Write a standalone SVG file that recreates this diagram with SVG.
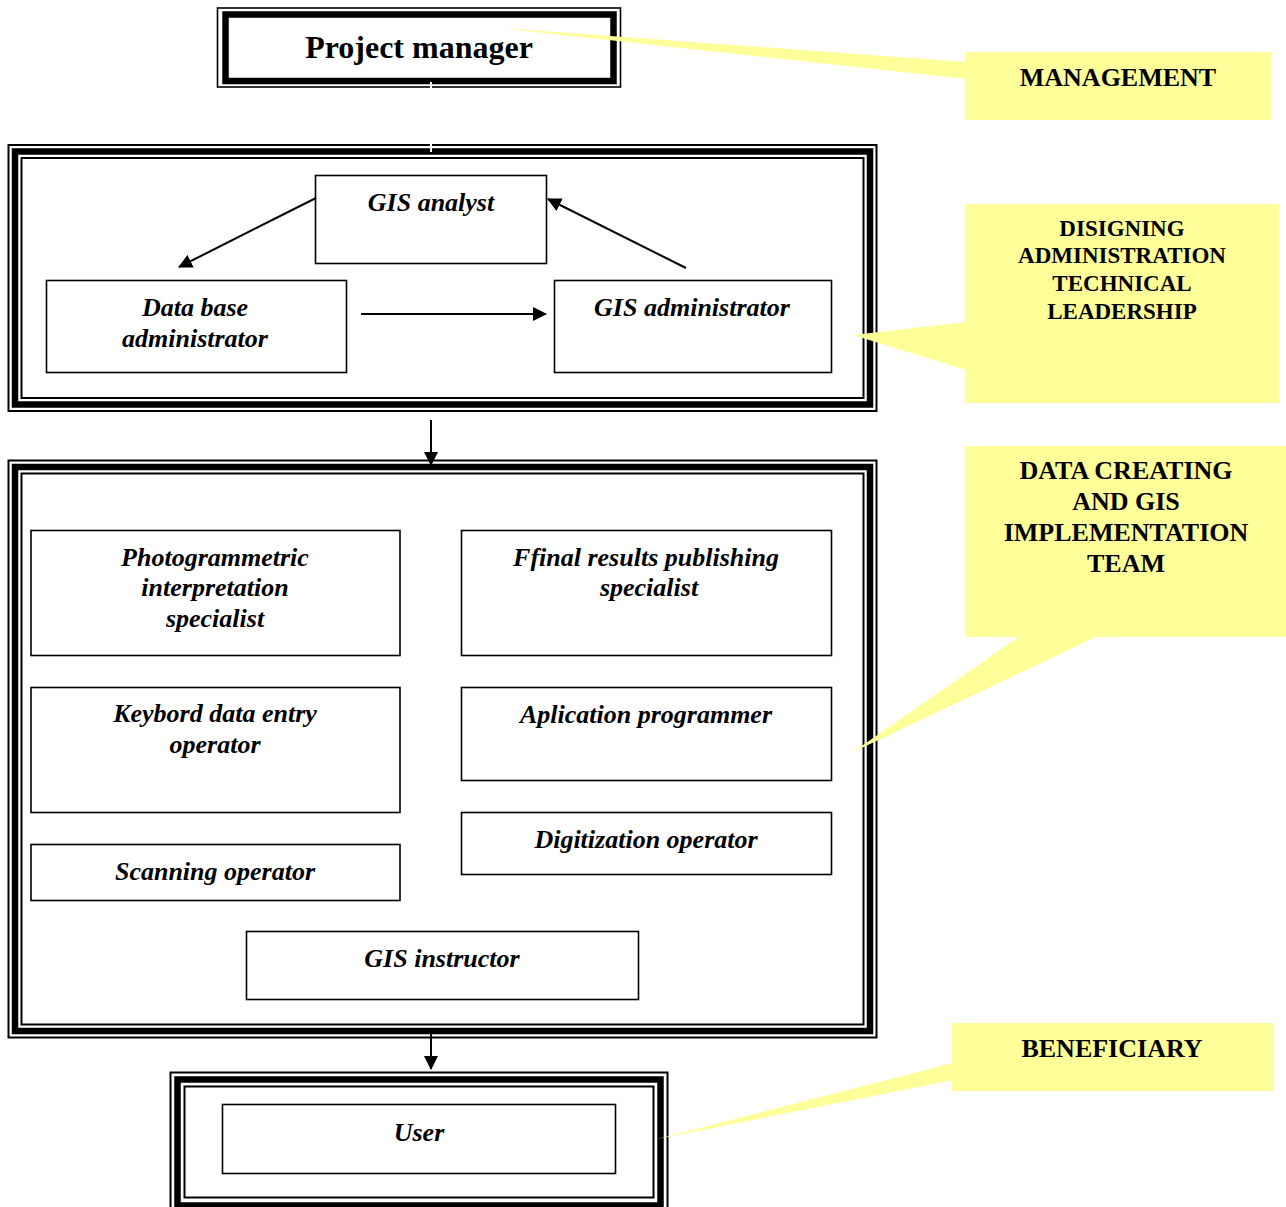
<svg xmlns="http://www.w3.org/2000/svg" width="1286" height="1207" viewBox="0 0 1286 1207">
  <style>
    .box { fill: #ffffff; stroke: #000000; stroke-width: 1.6; }
    .thin { fill: none; stroke: #000000; stroke-width: 2; }
    .thick { fill: none; stroke: #000000; stroke-width: 6.5; }
    .role { font-family: "Liberation Serif", "Times New Roman", serif; font-size: 26px; font-weight: bold; font-style: italic; fill: #000000; text-anchor: middle; }
    .title { font-family: "Liberation Serif", "Times New Roman", serif; font-size: 32px; font-weight: bold; fill: #000000; text-anchor: middle; }
    .note { font-family: "Liberation Serif", "Times New Roman", serif; font-size: 26px; font-weight: bold; fill: #000000; text-anchor: middle; }
    .note-sm { font-family: "Liberation Serif", "Times New Roman", serif; font-size: 23px; font-weight: bold; fill: #000000; text-anchor: middle; }
    .callout { fill: #FFFF99; stroke: none; }
    .link { fill: none; stroke: #000000; stroke-width: 2; }
  </style>
  <defs>
    <marker id="arrow" viewBox="0 0 14 14" refX="13" refY="7" markerWidth="14" markerHeight="14" markerUnits="userSpaceOnUse" orient="auto">
      <path d="M0,0 L14,7 L0,14 z" fill="#000000"/>
    </marker>
  </defs>

  <rect width="1286" height="1207" fill="#ffffff"/>

  <!-- Project manager -->
  <g id="project-manager">
    <rect x="217.5" y="8" width="403" height="79" fill="#ffffff" stroke="#000" stroke-width="1.6"/>
    <rect x="225.5" y="14.5" width="388" height="66.5" class="thick" stroke-width="7"/>
    <text x="419" y="58" class="title">Project manager</text>
  </g>

  <!-- Design / administration group frame -->
  <g id="design-frame">
    <rect x="8.5" y="145" width="868" height="266" class="thin"/>
    <rect x="15" y="151.5" width="855" height="253" class="thick"/>
    <rect x="21.5" y="158" width="842" height="240" class="thin"/>
  </g>

  <g id="gis-analyst">
    <rect x="315.5" y="175.5" width="231" height="88" class="box"/>
    <text x="431" y="211" class="role">GIS analyst</text>
  </g>
  <g id="database-administrator">
    <rect x="46.5" y="280.5" width="300" height="92" class="box"/>
    <text x="195" y="316" class="role">Data base</text>
    <text x="195" y="347" class="role">administrator</text>
  </g>
  <g id="gis-administrator">
    <rect x="554.5" y="280.5" width="277" height="92" class="box"/>
    <text x="692" y="316" class="role">GIS administrator</text>
  </g>

  <!-- Data creation and implementation team frame -->
  <g id="team-frame">
    <rect x="8.5" y="460.5" width="868" height="577" class="thin"/>
    <rect x="15" y="467" width="855" height="564" class="thick"/>
    <rect x="21.5" y="473.5" width="842" height="551" class="thin"/>
  </g>

  <g id="photogrammetric-specialist">
    <rect x="31" y="530.5" width="369" height="125" class="box"/>
    <text x="215" y="566" class="role">Photogrammetric</text>
    <text x="215" y="596" class="role">interpretation</text>
    <text x="215" y="627" class="role">specialist</text>
  </g>
  <g id="publishing-specialist">
    <rect x="461.5" y="530.5" width="370" height="125" class="box"/>
    <text x="646" y="566" class="role">Ffinal results publishing</text>
    <text x="649" y="596" class="role">specialist</text>
  </g>
  <g id="data-entry-operator">
    <rect x="31" y="687.5" width="369" height="125" class="box"/>
    <text x="215" y="722" class="role">Keybord data entry</text>
    <text x="215" y="753" class="role">operator</text>
  </g>
  <g id="application-programmer">
    <rect x="461.5" y="687.5" width="370" height="93" class="box"/>
    <text x="646" y="723" class="role">Aplication programmer</text>
  </g>
  <g id="digitization-operator">
    <rect x="461.5" y="812.5" width="370" height="62" class="box"/>
    <text x="646" y="848" class="role">Digitization operator</text>
  </g>
  <g id="scanning-operator">
    <rect x="31" y="844.5" width="369" height="56" class="box"/>
    <text x="215" y="880" class="role">Scanning operator</text>
  </g>
  <g id="gis-instructor">
    <rect x="246.5" y="931.5" width="392" height="68" class="box"/>
    <text x="442" y="967" class="role">GIS instructor</text>
  </g>

  <!-- User frame -->
  <g id="user">
    <rect x="170.5" y="1072.5" width="497" height="140" class="thin"/>
    <rect x="177.5" y="1079.5" width="483" height="126" class="thick"/>
    <rect x="184.5" y="1086.5" width="469" height="111" class="thin"/>
    <rect x="222.5" y="1104.5" width="393" height="69" class="box"/>
    <text x="419" y="1141" class="role">User</text>
  </g>

  <!-- Connectors -->
  <g id="connectors">
    <line x1="431" y1="82" x2="431" y2="152" stroke="#ffffff" stroke-width="2"/>
    <line x1="316" y1="198" x2="179" y2="267" class="link" marker-end="url(#arrow)"/>
    <line x1="686" y1="268" x2="548" y2="199" class="link" marker-end="url(#arrow)"/>
    <line x1="361" y1="314" x2="546" y2="314" class="link" marker-end="url(#arrow)"/>
    <line x1="431" y1="420" x2="431" y2="465" class="link" marker-end="url(#arrow)"/>
    <line x1="431" y1="1033" x2="431" y2="1069" class="link" marker-end="url(#arrow)"/>
  </g>

  <!-- Callouts -->
  <g id="callout-management">
    <polygon class="callout" points="500,28 966,62 966,79"/>
    <rect x="965" y="52" width="306" height="68" class="callout"/>
    <text x="1118" y="86" class="note">MANAGEMENT</text>
  </g>
  <g id="callout-design">
    <polygon class="callout" points="853,335 966,322 966,370"/>
    <rect x="965" y="204" width="314" height="199" class="callout"/>
    <text x="1122" y="236" class="note-sm">DISIGNING</text>
    <text x="1122" y="263" class="note-sm">ADMINISTRATION</text>
    <text x="1122" y="291" class="note-sm">TECHNICAL</text>
    <text x="1122" y="319" class="note-sm">LEADERSHIP</text>
  </g>
  <g id="callout-team">
    <polygon class="callout" points="853,752 1020,636 1098,636"/>
    <rect x="965" y="446" width="321" height="191" class="callout"/>
    <text x="1126" y="479" class="note">DATA CREATING</text>
    <text x="1126" y="510" class="note">AND GIS</text>
    <text x="1126" y="541" class="note">IMPLEMENTATION</text>
    <text x="1126" y="572" class="note">TEAM</text>
  </g>
  <g id="callout-beneficiary">
    <polygon class="callout" points="657,1139 953,1063 953,1080"/>
    <rect x="952" y="1023" width="322" height="68" class="callout"/>
    <text x="1112" y="1057" class="note">BENEFICIARY</text>
  </g>
</svg>
